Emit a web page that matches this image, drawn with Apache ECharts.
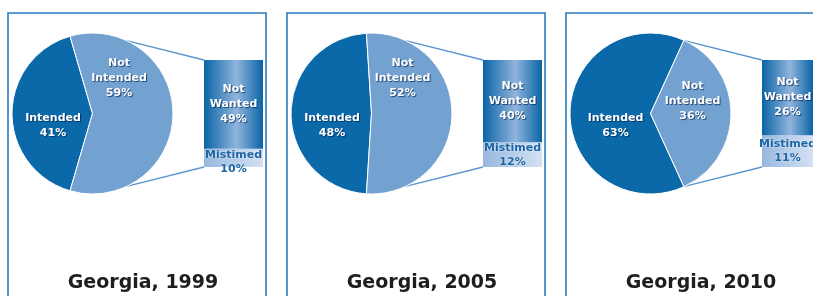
<!DOCTYPE html>
<html><head><meta charset="utf-8">
<script src="https://cdn.jsdelivr.net/npm/echarts@6/dist/echarts.min.js"></script>
<style>html,body{margin:0;padding:0;background:#fff}#c{width:813px;height:296px}</style>
</head><body><div id="c"></div>
<script>
// ---- data ----
const titles = ['Georgia, 1999', 'Georgia, 2005', 'Georgia, 2010'];
const pieCategories = ['Intended', 'Not Intended'];
const intended = [41, 48, 63];
const notIntended = [59, 52, 36];
const barCategories = ['Not Wanted', 'Mistimed'];
const notWanted = [49, 40, 26];
const mistimed = [10, 12, 11];

// ---- layout ----
const panelLeft = [8, 287, 566];
const panelTop = 13, panelW = 258;
const pieDX = 84.5, pieCY = 113.5, pieR = 80.5;
const barDX = 196, barTop = 60, barW = 59, barH = 107;
const labelOff = [
  [[-39.5, 12.5], [26.5, -35.5]],
  [[-39.5, 12.5], [31, -35.5]],
  [[-35, 12.5], [42, -12]]
];
const FONT = 'DejaVu Sans';
const cIntended = '#0b68a9', cNotIntended = '#74a2d0';

const whiteLabel = {
  color: '#fff', fontFamily: FONT, fontWeight: 'bold', fontSize: 11, lineHeight: 15,
  textShadowColor: 'rgba(0,35,80,0.75)', textShadowBlur: 1, textShadowOffsetX: 1, textShadowOffsetY: 1
};

const series = [], grids = [], xAxes = [], yAxes = [], titleArr = [], graphics = [];

for (let i = 0; i < 3; i++) {
  const cx = panelLeft[i] + pieDX;
  const tot = intended[i] + notIntended[i];
  series.push({
    type: 'pie', center: [cx, pieCY], radius: pieR,
    startAngle: 180 + 180 * intended[i] / tot, clockwise: true,
    silent: true, animation: false,
    itemStyle: { borderColor: '#fff', borderWidth: 1 },
    label: Object.assign({ show: true, position: 'inside', align: 'center', verticalAlign: 'middle',
      formatter: p => p.name.replace(' ', '\n') + '\n' + p.value + '%' }, whiteLabel),
    labelLine: { show: false },
    labelLayout: (function (ii, cxx) {
      return function (p) {
        const o = labelOff[ii][p.dataIndex];
        return { x: cxx + o[0], y: pieCY + o[1], align: 'center', verticalAlign: 'middle' };
      };
    })(i, cx),
    data: [
      { name: pieCategories[0], value: intended[i], itemStyle: { color: cIntended } },
      { name: pieCategories[1], value: notIntended[i], itemStyle: { color: cNotIntended } }
    ]
  });

  const bl = panelLeft[i] + barDX;
  grids.push({ left: bl, top: barTop, width: barW, height: barH });
  xAxes.push({ type: 'category', gridIndex: i, data: [titles[i]], show: false });
  yAxes.push({ type: 'value', gridIndex: i, min: 0, max: notWanted[i] + mistimed[i], show: false });

  series.push({
    type: 'bar', name: barCategories[1], xAxisIndex: i, yAxisIndex: i, stack: 's' + i,
    barWidth: '100%', silent: true, animation: false,
    data: [mistimed[i]],
    itemStyle: { color: new echarts.graphic.LinearGradient(0, 0, 1, 0, [
      { offset: 0, color: '#98b7de' }, { offset: 1, color: '#d4e1f2' }]) },
    label: { show: true, position: 'inside', color: '#1c66a6', fontFamily: FONT, fontWeight: 'bold',
      fontSize: 11, lineHeight: 14, align: 'center', verticalAlign: 'middle',
      textShadowColor: 'rgba(255,255,255,0.9)', textShadowBlur: 2,
      formatter: p => p.seriesName + '\n' + p.value + '%' },
    labelLayout: function (p) {
      const r = p.rect;
      return { x: r.x + r.width / 2, y: Math.max(r.y + r.height / 2, r.y + 13), align: 'center', verticalAlign: 'middle' };
    }
  });
  series.push({
    type: 'bar', name: barCategories[0], xAxisIndex: i, yAxisIndex: i, stack: 's' + i,
    barWidth: '100%', silent: true, animation: false,
    data: [notWanted[i]],
    itemStyle: { color: new echarts.graphic.LinearGradient(0, 0, 1, 0, [
      { offset: 0, color: '#0a64a6' }, { offset: 0.55, color: '#90b4dc' }, { offset: 1, color: '#0a64a6' }]) },
    label: Object.assign({ show: true, position: 'inside', align: 'center', verticalAlign: 'middle',
      formatter: p => p.seriesName.replace(' ', '\n') + '\n' + p.value + '%' }, whiteLabel)
  });

  titleArr.push({
    text: titles[i], left: panelLeft[i] + 130, top: 269, textAlign: 'center',
    textStyle: { fontFamily: FONT, fontWeight: 'bold', fontSize: 19, color: '#1e1e1e' }
  });

  graphics.push({
    type: 'rect', silent: true, z: 0,
    shape: { x: panelLeft[i], y: panelTop, width: panelW, height: 320 },
    style: { fill: 'none', stroke: '#2b7bbf', lineWidth: 1.6 }
  });
  const a = 65 * Math.PI / 180;
  const px = cx + pieR * Math.cos(a);
  graphics.push({
    type: 'line', silent: true, z: 0,
    shape: { x1: px, y1: pieCY - pieR * Math.sin(a), x2: bl, y2: barTop },
    style: { stroke: '#5b95cf', lineWidth: 1.3 }
  });
  graphics.push({
    type: 'line', silent: true, z: 0,
    shape: { x1: px, y1: pieCY + pieR * Math.sin(a), x2: bl, y2: barTop + barH },
    style: { stroke: '#5b95cf', lineWidth: 1.3 }
  });
}

const chart = echarts.init(document.getElementById('c'), null, { renderer: 'canvas' });
chart.setOption({
  backgroundColor: '#fff',
  animation: false,
  title: titleArr,
  grid: grids, xAxis: xAxes, yAxis: yAxes,
  series: series,
  graphic: graphics
});
</script>
</body></html>
